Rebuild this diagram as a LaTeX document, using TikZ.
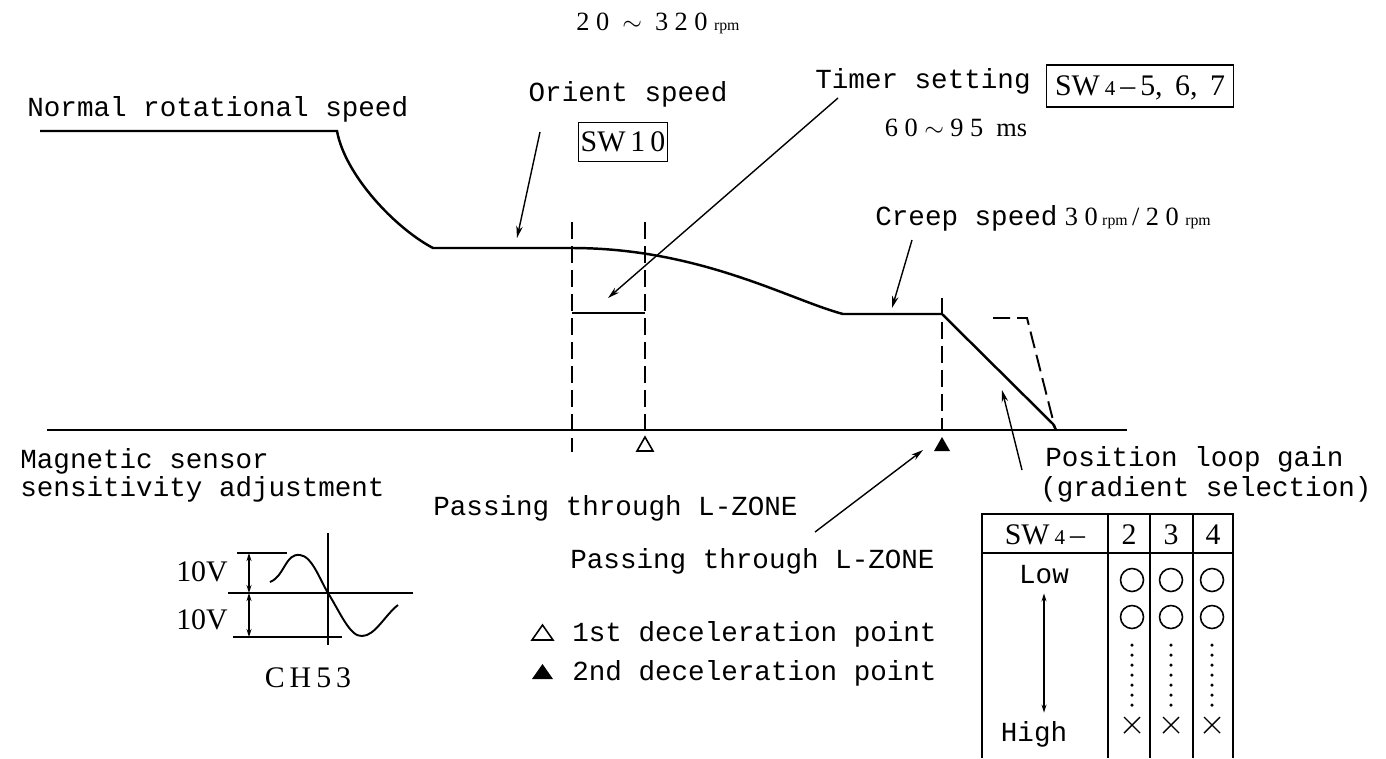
\documentclass[tikz,border=0pt]{standalone}
\usepackage{fontspec}
\setmainfont{Liberation Serif}
\setmonofont{Liberation Mono}
\usepackage{tikz}
\usetikzlibrary{arrows.meta,positioning}
\newcommand{\dgap}{\hspace{1.3mm}}
\newcommand{\rpmunit}{{\fontsize{9}{10}\selectfont rpm}}
\tikzset{
  tw/.style={font=\ttfamily\fontsize{15.7}{18}\selectfont,inner sep=0pt,text height=9.2pt,text depth=0pt},
  serif/.style={font=\rmfamily\fontsize{17}{19}\selectfont,inner sep=0pt,text height=11.2pt,text depth=0pt},
  serifsm/.style={font=\rmfamily\fontsize{15}{17}\selectfont,inner sep=0pt,text height=9.9pt,text depth=0pt},
  swbox/.style={serif,draw,line width=0.9pt},
  speed/.style={line width=1.4pt},
  guide/.style={line width=1.1pt,dash pattern=on 3.4mm off 1.4mm},
  tbl/.style={line width=1pt},
  arr/.style={-{Stealth[length=2.4mm,width=1.3mm]},line width=0.8pt},
  dbl/.style={{Stealth[length=1.6mm,width=1mm]}-{Stealth[length=1.6mm,width=1mm]},line width=0.7pt}}

\begin{document}
\begin{tikzpicture}[x=0.2mm,y=-0.2mm]
\useasboundingbox (0,0) rectangle (1386,758);
% speed profile and axis
\draw[speed] (40,131) -- (337,131) .. controls (345,175) and (395,228) .. (433,248) -- (572,248)
  .. controls (700,248) and (790,300) .. (843,314) -- (942,314) -- (1053,424) -- (1056,430);
\draw[speed] (47,430) -- (1127,430);
\draw[guide] (572,222) -- (572,452);
\draw[guide] (645,222) -- (645,430);
\draw[guide] (942,298) -- (942,430);
\draw[guide] (993,318) -- (1027,318) -- (1055,428);
\draw[speed] (572,313) -- (645,313);
\draw[line width=0.9pt] (637,451) -- (653,451) -- (645,437) -- cycle;
\fill (934,451) -- (950,451) -- (942,437) -- cycle;

\node[serifsm] (range) at (658,22) {2\dgap 0\dgap\dgap$\sim$\dgap\dgap 3\dgap 2\dgap 0\dgap\rpmunit};
\node[tw,anchor=west] (normal) at (27,108) {Normal rotational speed};
\node[tw] (orient) at (628,93) {Orient speed};
\node[swbox,minimum width=17.8mm,minimum height=7.8mm] (sw10) at (623,142) {SW\,1\,0};
\node[tw,anchor=west] (timer) at (815,80) {Timer setting};
\node[swbox,minimum width=37.4mm,minimum height=8.4mm] (swtimer) at (1140,86) {SW\,{\fontsize{12}{12}\selectfont 4}\,--\,5,\, 6,\, 7};
\node[serifsm] (ms) at (956,128) {6\dgap 0\dgap$\sim$\dgap 9\dgap 5\dgap\dgap ms};
\node[tw,anchor=west] (creep) at (875,217) {Creep speed\hspace{1.5mm}{\rmfamily\fontsize{15}{17}\selectfont 3\dgap 0\,\rpmunit\,/\dgap 2\dgap 0\dgap\rpmunit}};

\coordinate (osTail) at (540,132);
\coordinate (osTip) at (517,238);
\coordinate (tmTail) at (838,98);
\coordinate (tmTip) at (608,298);
\coordinate (crTail) at (912,240);
\coordinate (crTip) at (892,308);
\coordinate (pgTail) at (1022,470);
\coordinate (pgTip) at (1002,390);
\coordinate (lzTail) at (815,532);
\coordinate (lzTip) at (923,450);
\draw[arr] (osTail) -- (osTip);
\draw[arr] (tmTail) -- (tmTip);
\draw[arr] (crTail) -- (crTip);
\draw[arr] (pgTail) -- (pgTip);
\draw[arr] (lzTail) -- (lzTip);

\node[tw,anchor=west] (magnet) at (20,460) {Magnetic sensor};
\node[tw,anchor=west] (sensit) at (20,488) {sensitivity adjustment};
\node[tw,anchor=west] (pass1) at (433,507) {Passing through L-ZONE};
\node[tw,anchor=west] (pass2) at (570,560) {Passing through L-ZONE};
\node[tw,anchor=west] (posgain) at (1045,458) {Position loop gain};
\node[tw,anchor=west] (gradsel) at (1040,488) {(gradient selection)};

% legend
\draw[line width=0.9pt] (532,640) -- (553,640) -- (542.5,625) -- cycle;
\fill (532,679) -- (553,679) -- (542.5,664) -- cycle;
\node[tw,anchor=west] (first) at (572,633) {1st deceleration point};
\node[tw,anchor=west] (second) at (572,672) {2nd deceleration point};

% sensor waveform
\coordinate (wTop) at (249,553);
\coordinate (wMid) at (249,593);
\coordinate (wBot) at (249,637);
\draw[line width=0.9pt] (237,553) -- (287,553);
\draw[line width=0.9pt] (228,593) -- (413,593);
\draw[line width=0.9pt] (233,637) -- (342,637);
\draw[line width=0.9pt] (328,533) -- (328,645);
\draw[dbl] (wTop) -- (wMid);
\draw[dbl] (wMid) -- (wBot);
\draw[line width=1.1pt] (270,582) .. controls (285,576) and (285,553) .. (300,555)
  .. controls (312,556) and (320,580) .. (328,593)
  .. controls (340,612) and (350,637) .. (362,636)
  .. controls (375,636) and (385,615) .. (398,605);
\node[serif] (vup) at (202,572) {10V};
\node[serif] (vdown) at (202,620) {10V};
\node[serif] (ch) at (308,678) {C\,H\,5\,3};

% gain table
\draw[tbl] (982,758) |- (1233,514) -- (1233,758);
\draw[tbl] (982,553) -- (1233,553);
\foreach \x in {1108,1150,1193} \draw[tbl] (\x,514) -- (\x,758);
\node[serif] (swhead) at (1045,535) {SW\,{\fontsize{12}{12}\selectfont 4}\,--};
\node[serif] (c2) at (1129,535) {2};
\node[serif] (c3) at (1171,535) {3};
\node[serif] (c4) at (1213,535) {4};
\node[tw] (low) at (1044,575) {Low};
\node[tw] (high) at (1034,733) {High};
\draw[dbl,shorten <=2mm,shorten >=2.4mm] (low.south) -- (low.south |- high.north);
\foreach \x in {1132,1171,1212} {
  \draw[line width=0.9pt] (\x,580) circle (2.3mm);
  \draw[line width=0.9pt] (\x,617) circle (2.3mm);
  \foreach \y in {645,655,...,705} \fill (\x,\y) circle (0.35mm);
  \draw[line width=0.8pt] ({\x-8},717) -- ({\x+8},733) ({\x-8},733) -- ({\x+8},717);
}
\end{tikzpicture}
\end{document}
